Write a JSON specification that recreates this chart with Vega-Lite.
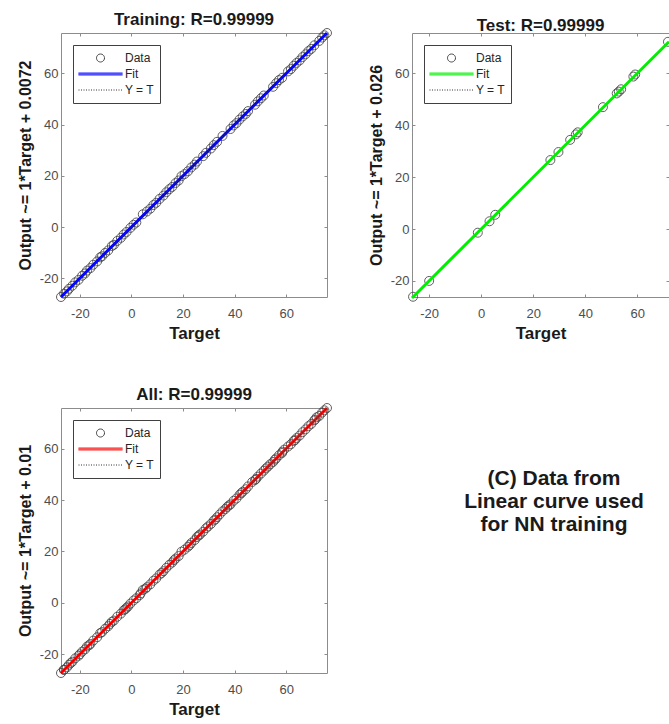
{
  "$schema": "https://vega.github.io/schema/vega-lite/v6.json",
  "padding": {"left": 16, "top": 10, "right": 0, "bottom": 0},
  "background": "white",
  "datasets": {
    "pts": [
      {"set": "Training", "t": -27.3, "o": -27.3}, {"set": "Training", "t": -26.1, "o": -26.0}, {"set": "Training", "t": -25.0, "o": -25.1},
      {"set": "Training", "t": -24.2, "o": -24.1}, {"set": "Training", "t": -22.9, "o": -22.9}, {"set": "Training", "t": -21.8, "o": -21.6},
      {"set": "Training", "t": -20.5, "o": -20.6}, {"set": "Training", "t": -19.1, "o": -19.0}, {"set": "Training", "t": -18.0, "o": -18.1},
      {"set": "Training", "t": -17.2, "o": -17.0}, {"set": "Training", "t": -15.9, "o": -16.0}, {"set": "Training", "t": -14.8, "o": -14.7},
      {"set": "Training", "t": -13.3, "o": -13.4}, {"set": "Training", "t": -12.1, "o": -11.8}, {"set": "Training", "t": -11.4, "o": -11.4},
      {"set": "Training", "t": -10.2, "o": -10.1}, {"set": "Training", "t": -9.0, "o": -9.1}, {"set": "Training", "t": -7.6, "o": -7.4},
      {"set": "Training", "t": -6.8, "o": -6.9}, {"set": "Training", "t": -5.5, "o": -5.4}, {"set": "Training", "t": -4.1, "o": -4.2},
      {"set": "Training", "t": -3.0, "o": -2.9}, {"set": "Training", "t": -1.9, "o": -1.9}, {"set": "Training", "t": -0.4, "o": -0.3},
      {"set": "Training", "t": 0.8, "o": 0.9}, {"set": "Training", "t": 1.9, "o": 1.8}, {"set": "Training", "t": 4.4, "o": 5.0},
      {"set": "Training", "t": 6.0, "o": 6.1}, {"set": "Training", "t": 7.3, "o": 7.2}, {"set": "Training", "t": 8.5, "o": 8.6},
      {"set": "Training", "t": 9.6, "o": 9.5}, {"set": "Training", "t": 10.9, "o": 11.0}, {"set": "Training", "t": 12.4, "o": 12.3},
      {"set": "Training", "t": 13.5, "o": 13.6}, {"set": "Training", "t": 14.7, "o": 14.8}, {"set": "Training", "t": 15.8, "o": 15.7},
      {"set": "Training", "t": 17.1, "o": 17.2}, {"set": "Training", "t": 18.3, "o": 18.2}, {"set": "Training", "t": 19.4, "o": 19.9},
      {"set": "Training", "t": 20.6, "o": 20.7}, {"set": "Training", "t": 21.9, "o": 21.8}, {"set": "Training", "t": 23.2, "o": 23.3},
      {"set": "Training", "t": 24.5, "o": 24.4}, {"set": "Training", "t": 25.4, "o": 25.6}, {"set": "Training", "t": 27.8, "o": 27.7},
      {"set": "Training", "t": 28.9, "o": 29.0}, {"set": "Training", "t": 30.8, "o": 30.7}, {"set": "Training", "t": 31.9, "o": 32.0},
      {"set": "Training", "t": 33.2, "o": 33.3}, {"set": "Training", "t": 35.3, "o": 35.6}, {"set": "Training", "t": 38.4, "o": 38.3},
      {"set": "Training", "t": 39.6, "o": 39.7}, {"set": "Training", "t": 40.7, "o": 40.6}, {"set": "Training", "t": 41.9, "o": 42.0},
      {"set": "Training", "t": 43.1, "o": 43.2}, {"set": "Training", "t": 44.3, "o": 44.2}, {"set": "Training", "t": 45.2, "o": 45.3},
      {"set": "Training", "t": 47.9, "o": 47.8}, {"set": "Training", "t": 49.0, "o": 49.1}, {"set": "Training", "t": 50.2, "o": 50.3},
      {"set": "Training", "t": 51.3, "o": 51.4}, {"set": "Training", "t": 54.9, "o": 54.8}, {"set": "Training", "t": 56.1, "o": 56.2},
      {"set": "Training", "t": 57.2, "o": 57.4}, {"set": "Training", "t": 58.4, "o": 58.3}, {"set": "Training", "t": 60.7, "o": 60.8},
      {"set": "Training", "t": 61.8, "o": 61.7}, {"set": "Training", "t": 62.9, "o": 63.0}, {"set": "Training", "t": 64.0, "o": 64.1},
      {"set": "Training", "t": 65.2, "o": 65.1}, {"set": "Training", "t": 66.3, "o": 66.4}, {"set": "Training", "t": 67.5, "o": 67.5},
      {"set": "Training", "t": 68.6, "o": 68.7}, {"set": "Training", "t": 69.7, "o": 69.6}, {"set": "Training", "t": 70.9, "o": 71.0},
      {"set": "Training", "t": 72.8, "o": 72.7}, {"set": "Training", "t": 73.9, "o": 74.0}, {"set": "Training", "t": 74.8, "o": 74.9},
      {"set": "Training", "t": 75.8, "o": 75.8},
      {"set": "Validation", "t": -23.5, "o": -23.4}, {"set": "Validation", "t": -16.4, "o": -16.5}, {"set": "Validation", "t": -8.3, "o": -8.2},
      {"set": "Validation", "t": -2.4, "o": -2.5}, {"set": "Validation", "t": 3.6, "o": 3.7}, {"set": "Validation", "t": 11.7, "o": 11.6},
      {"set": "Validation", "t": 16.5, "o": 16.6}, {"set": "Validation", "t": 22.6, "o": 22.5}, {"set": "Validation", "t": 26.1, "o": 26.2},
      {"set": "Validation", "t": 32.5, "o": 32.4}, {"set": "Validation", "t": 37.8, "o": 37.9}, {"set": "Validation", "t": 42.6, "o": 42.7},
      {"set": "Validation", "t": 48.3, "o": 48.2}, {"set": "Validation", "t": 55.6, "o": 55.7}, {"set": "Validation", "t": 63.4, "o": 63.3},
      {"set": "Validation", "t": 71.2, "o": 71.3},
      {"set": "Test", "t": -26.2, "o": -26.1}, {"set": "Test", "t": -20.0, "o": -20.0}, {"set": "Test", "t": -1.3, "o": -1.4},
      {"set": "Test", "t": 3.2, "o": 3.0}, {"set": "Test", "t": 5.4, "o": 5.5}, {"set": "Test", "t": 26.6, "o": 26.6},
      {"set": "Test", "t": 29.7, "o": 29.7}, {"set": "Test", "t": 34.2, "o": 34.4}, {"set": "Test", "t": 36.4, "o": 36.5},
      {"set": "Test", "t": 37.1, "o": 37.3}, {"set": "Test", "t": 46.8, "o": 47.0}, {"set": "Test", "t": 52.1, "o": 52.3},
      {"set": "Test", "t": 52.9, "o": 53.0}, {"set": "Test", "t": 53.8, "o": 53.9}, {"set": "Test", "t": 58.5, "o": 58.8},
      {"set": "Test", "t": 59.2, "o": 59.6}, {"set": "Test", "t": 71.8, "o": 72.2}
    ],
    "lines": [
      {"panel": "Training", "series": "Fit", "t": -27.3, "o": -27.29},
      {"panel": "Training", "series": "Fit", "t": 75.8, "o": 75.81},
      {"panel": "Training", "series": "Y = T", "t": -27.3, "o": -27.3},
      {"panel": "Training", "series": "Y = T", "t": 75.8, "o": 75.8},
      {"panel": "Test", "series": "Fit", "t": -26.6, "o": -26.57},
      {"panel": "Test", "series": "Fit", "t": 72.2, "o": 72.23},
      {"panel": "Test", "series": "Y = T", "t": -26.6, "o": -26.6},
      {"panel": "Test", "series": "Y = T", "t": 72.2, "o": 72.2},
      {"panel": "All", "series": "Fit", "t": -27.3, "o": -27.29},
      {"panel": "All", "series": "Fit", "t": 75.8, "o": 75.81},
      {"panel": "All", "series": "Y = T", "t": -27.3, "o": -27.3},
      {"panel": "All", "series": "Y = T", "t": 75.8, "o": 75.8}
    ]
  },
  "concat": [
    {
      "title": "Training: R=0.99999",
      "width": 266,
      "height": 264,
      "layer": [
        {
          "data": {"name": "pts"},
          "transform": [{"filter": "datum.set === 'Training'"}],
          "mark": {"type": "point", "filled": false, "size": 2450, "strokeWidth": 1, "opacity": 0.85},
          "encoding": {
            "x": {"field": "t", "type": "quantitative", "scale": {"domain": [-27.3, 75.8], "nice": false, "zero": false}, "axis": {"orient": "bottom", "values": [-20, 0, 20, 40, 60], "title": "Target"}},
            "y": {"field": "o", "type": "quantitative", "scale": {"domain": [-27.3, 75.8], "nice": false, "zero": false}, "axis": {"orient": "left", "values": [-20, 0, 20, 40, 60], "title": "Output ~= 1*Target + 0.0072"}},
            "color": {"datum": "Data", "type": "nominal", "scale": {"domain": ["Data", "Fit", "Y = T"], "range": ["#444444", "#0000ff", "#333333"]}, "legend": {"title": null}},
            "shape": {"datum": "Data", "type": "nominal", "scale": {"domain": ["Data", "Fit", "Y = T"], "range": ["M0.1818,0A0.1818,0.1818,0,1,1,-0.1818,0A0.1818,0.1818,0,1,1,0.1818,0Z", "M-1,-0.045H1M-1,0H1M-1,0.045H1", "M-1,0H1"]}, "legend": {"title": null}}
          }
        },
        {
          "data": {"name": "lines"},
          "transform": [{"filter": "datum.panel === 'Training' && datum.series === 'Fit'"}],
          "mark": {"type": "line", "strokeWidth": 3},
          "encoding": {
            "x": {"field": "t", "type": "quantitative", "axis": null},
            "y": {"field": "o", "type": "quantitative", "axis": null},
            "color": {"field": "series", "type": "nominal", "legend": {"title": null}}
          }
        },
        {
          "data": {"name": "lines"},
          "transform": [{"filter": "datum.panel === 'Training' && datum.series === 'Y = T'"}],
          "mark": {"type": "line", "strokeWidth": 1},
          "encoding": {
            "x": {"field": "t", "type": "quantitative", "axis": {"orient": "top", "labels": false, "title": null, "values": [-20, 0, 20, 40, 60]}},
            "y": {"field": "o", "type": "quantitative", "axis": {"orient": "right", "labels": false, "title": null, "values": [-20, 0, 20, 40, 60]}},
            "color": {"field": "series", "type": "nominal", "legend": {"title": null}},
            "strokeDash": {"field": "series", "type": "nominal", "scale": {"domain": ["Data", "Fit", "Y = T"], "range": [[1, 0], [1, 0], [1, 1.5]]}, "legend": {"title": null}}
          }
        }
      ],
      "resolve": {"axis": {"x": "independent", "y": "independent"}}
    },
    {
      "title": "Test: R=0.99999",
      "width": 257,
      "height": 264,
      "layer": [
        {
          "data": {"name": "pts"},
          "transform": [{"filter": "datum.set === 'Test'"}],
          "mark": {"type": "point", "filled": false, "size": 2450, "strokeWidth": 1, "opacity": 0.85},
          "encoding": {
            "x": {"field": "t", "type": "quantitative", "scale": {"domain": [-26.6, 72.2], "nice": false, "zero": false}, "axis": {"orient": "bottom", "values": [-20, 0, 20, 40, 60], "title": "Target"}},
            "y": {"field": "o", "type": "quantitative", "scale": {"domain": [-26.2, 75.6], "nice": false, "zero": false}, "axis": {"orient": "left", "values": [-20, 0, 20, 40, 60], "title": "Output ~= 1*Target + 0.026"}},
            "color": {"datum": "Data", "type": "nominal", "scale": {"domain": ["Data", "Fit", "Y = T"], "range": ["#444444", "#00ee00", "#333333"]}, "legend": {"title": null}},
            "shape": {"datum": "Data", "type": "nominal", "scale": {"domain": ["Data", "Fit", "Y = T"], "range": ["M0.1818,0A0.1818,0.1818,0,1,1,-0.1818,0A0.1818,0.1818,0,1,1,0.1818,0Z", "M-1,-0.045H1M-1,0H1M-1,0.045H1", "M-1,0H1"]}, "legend": {"title": null}}
          }
        },
        {
          "data": {"name": "lines"},
          "transform": [{"filter": "datum.panel === 'Test' && datum.series === 'Y = T'"}],
          "mark": {"type": "line", "strokeWidth": 1},
          "encoding": {
            "x": {"field": "t", "type": "quantitative", "axis": {"orient": "top", "labels": false, "title": null, "values": [-20, 0, 20, 40, 60]}},
            "y": {"field": "o", "type": "quantitative", "axis": {"orient": "right", "labels": false, "title": null, "values": [-20, 0, 20, 40, 60]}},
            "color": {"field": "series", "type": "nominal", "legend": {"title": null}},
            "strokeDash": {"field": "series", "type": "nominal", "scale": {"domain": ["Data", "Fit", "Y = T"], "range": [[1, 0], [1, 0], [1, 1.5]]}, "legend": {"title": null}}
          }
        },
        {
          "data": {"name": "lines"},
          "transform": [{"filter": "datum.panel === 'Test' && datum.series === 'Fit'"}],
          "mark": {"type": "line", "strokeWidth": 3},
          "encoding": {
            "x": {"field": "t", "type": "quantitative", "axis": null},
            "y": {"field": "o", "type": "quantitative", "axis": null},
            "color": {"field": "series", "type": "nominal", "legend": {"title": null}}
          }
        }
      ],
      "resolve": {"axis": {"x": "independent", "y": "independent"}}
    },
    {
      "title": "All: R=0.99999",
      "width": 266,
      "height": 265,
      "layer": [
        {
          "data": {"name": "pts"},
          "mark": {"type": "point", "filled": false, "size": 2450, "strokeWidth": 1, "opacity": 0.85},
          "encoding": {
            "x": {"field": "t", "type": "quantitative", "scale": {"domain": [-27.3, 75.8], "nice": false, "zero": false}, "axis": {"orient": "bottom", "values": [-20, 0, 20, 40, 60], "title": "Target"}},
            "y": {"field": "o", "type": "quantitative", "scale": {"domain": [-27.3, 75.8], "nice": false, "zero": false}, "axis": {"orient": "left", "values": [-20, 0, 20, 40, 60], "title": "Output ~= 1*Target + 0.01"}},
            "color": {"datum": "Data", "type": "nominal", "scale": {"domain": ["Data", "Fit", "Y = T"], "range": ["#444444", "#ff0000", "#333333"]}, "legend": {"title": null}},
            "shape": {"datum": "Data", "type": "nominal", "scale": {"domain": ["Data", "Fit", "Y = T"], "range": ["M0.1818,0A0.1818,0.1818,0,1,1,-0.1818,0A0.1818,0.1818,0,1,1,0.1818,0Z", "M-1,-0.045H1M-1,0H1M-1,0.045H1", "M-1,0H1"]}, "legend": {"title": null}}
          }
        },
        {
          "data": {"name": "lines"},
          "transform": [{"filter": "datum.panel === 'All' && datum.series === 'Fit'"}],
          "mark": {"type": "line", "strokeWidth": 3},
          "encoding": {
            "x": {"field": "t", "type": "quantitative", "axis": null},
            "y": {"field": "o", "type": "quantitative", "axis": null},
            "color": {"field": "series", "type": "nominal", "legend": {"title": null}}
          }
        },
        {
          "data": {"name": "lines"},
          "transform": [{"filter": "datum.panel === 'All' && datum.series === 'Y = T'"}],
          "mark": {"type": "line", "strokeWidth": 1},
          "encoding": {
            "x": {"field": "t", "type": "quantitative", "axis": {"orient": "top", "labels": false, "title": null, "values": [-20, 0, 20, 40, 60]}},
            "y": {"field": "o", "type": "quantitative", "axis": {"orient": "right", "labels": false, "title": null, "values": [-20, 0, 20, 40, 60]}},
            "color": {"field": "series", "type": "nominal", "legend": {"title": null}},
            "strokeDash": {"field": "series", "type": "nominal", "scale": {"domain": ["Data", "Fit", "Y = T"], "range": [[1, 0], [1, 0], [1, 1.5]]}, "legend": {"title": null}}
          }
        }
      ],
      "resolve": {"axis": {"x": "independent", "y": "independent"}}
    },
    {
      "width": 284,
      "height": 142,
      "view": {"stroke": null},
      "data": {"values": [{"note": "(C) Data from\nLinear curve used\nfor NN training"}]},
      "mark": {"type": "text", "lineBreak": "\n", "font": "Liberation Sans", "fontSize": 21, "fontWeight": "bold", "lineHeight": 23, "align": "center", "baseline": "middle", "color": "#1a1a1a"},
      "encoding": {"text": {"field": "note", "type": "nominal"}}
    }
  ],
  "columns": 2,
  "spacing": {"row": 111, "column": 85},
  "bounds": "flush",
  "align": "each",
  "resolve": {"scale": {"color": "independent", "shape": "independent", "strokeDash": "independent"}},
  "config": {
    "font": "Liberation Sans",
    "view": {"stroke": "#8c8c8c", "strokeWidth": 1},
    "axis": {
      "grid": false, "domain": false, "tickColor": "#8c8c8c", "tickSize": -3, "tickWidth": 1,
      "labelFont": "Liberation Sans", "labelFontSize": 13, "labelColor": "#4d4d4d", "labelFlush": false, "labelOverlap": false,
      "labelExpr": "'' + datum.value",
      "titleFont": "Liberation Sans", "titleFontWeight": "bold", "titleColor": "#1a1a1a"
    },
    "axisX": {"labelPadding": 13, "titlePadding": 5, "titleFontSize": 17},
    "axisY": {"labelPadding": 6, "titlePadding": 6, "titleFontSize": 16},
    "title": {"font": "Liberation Sans", "fontSize": 17, "fontWeight": "bold", "color": "#1a1a1a", "offset": -2, "baseline": "bottom", "anchor": "middle"},
    "legend": {
      "orient": "top-left", "offset": 12, "padding": 5, "fillColor": "white", "strokeColor": "#404040",
      "labelFont": "Liberation Sans", "labelFontSize": 12, "labelColor": "#262626", "symbolSize": 1936, "clipHeight": 16, "rowPadding": 0,
      "labelOffset": 2, "cornerRadius": 0, "symbolStrokeWidth": 1, "symbolOpacity": 1, "direction": "vertical"
    }
  }
}
